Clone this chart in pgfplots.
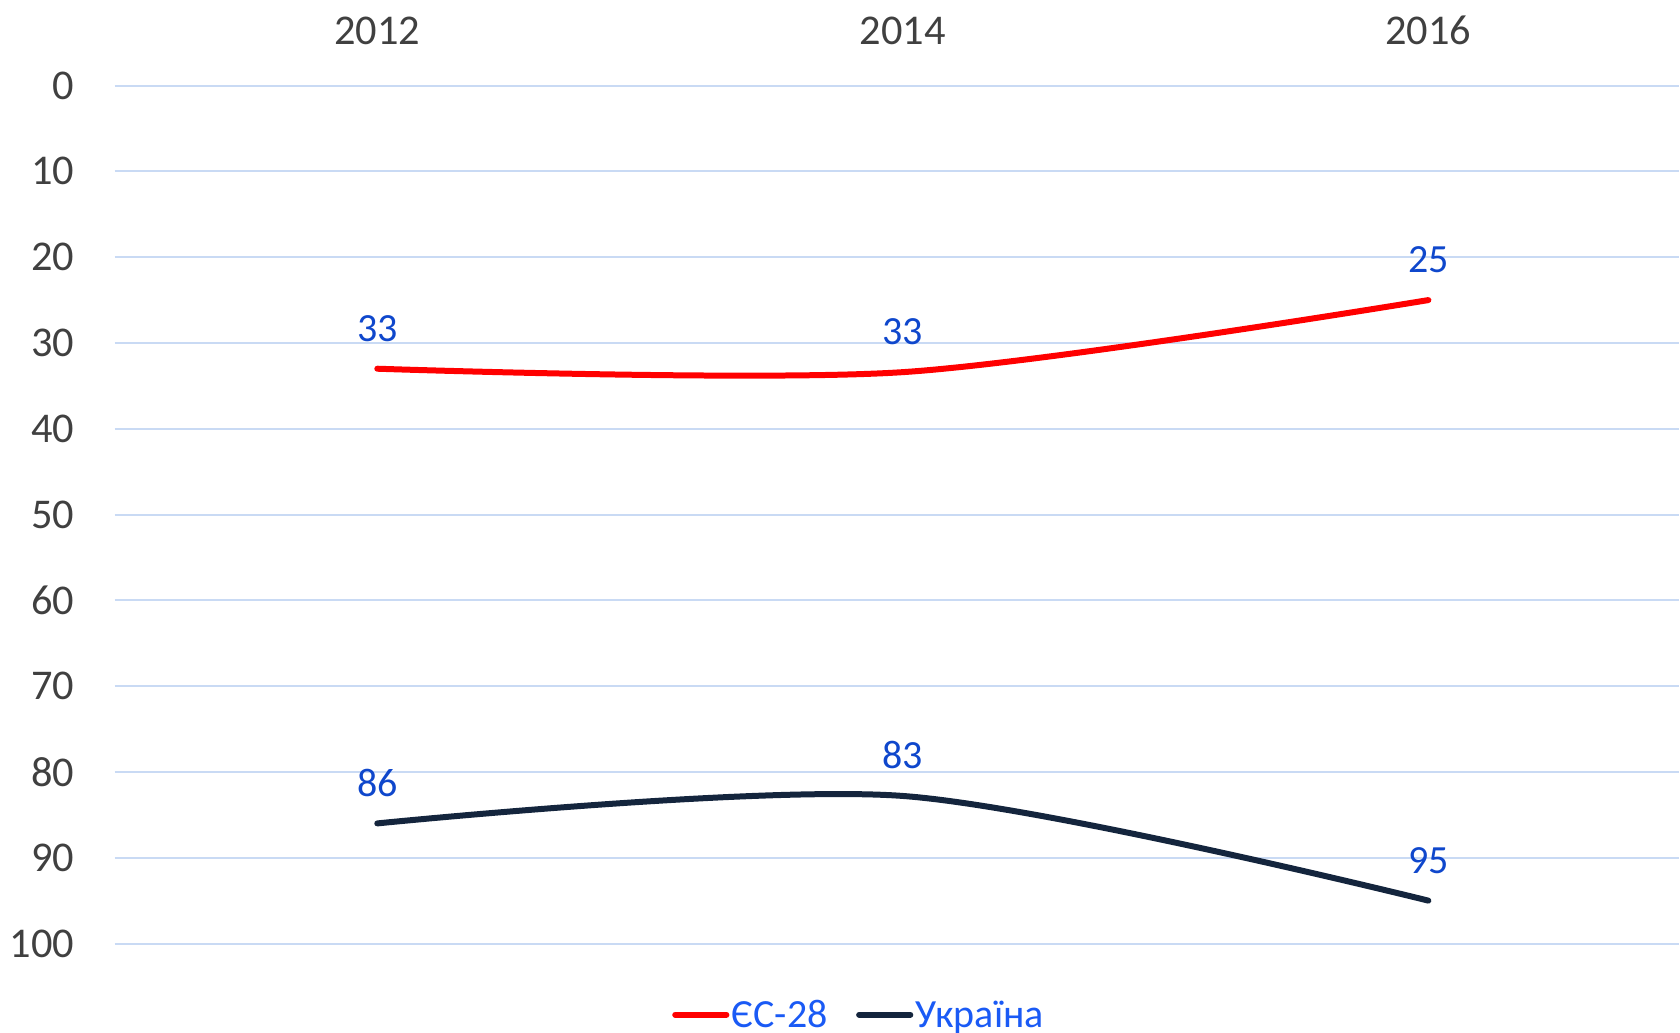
\documentclass[border=0pt]{standalone}
\usepackage{fontspec}
\setmainfont{Carlito}
\usepackage{pgfplots}
\pgfplotsset{compat=1.18}

\definecolor{gridblue}{HTML}{C9DAF4}
\definecolor{ticktxt}{HTML}{404040}
\definecolor{lblblue}{HTML}{0F47CC}
\definecolor{legblue}{HTML}{1A5AF5}
\definecolor{eured}{HTML}{FF0000}
\definecolor{uanavy}{HTML}{14253D}

\begin{document}
\begin{tikzpicture}
\begin{axis}[
    scale only axis,
    width=391.35pt, height=214.6pt,
    xmin=-0.5, xmax=2.477,
    ymin=0, ymax=100,
    y dir=reverse,
    xtick={0,1,2},
    xticklabels={2012,2014,2016},
    xticklabel pos=upper,
    ytick={0,10,...,100},
    ymajorgrids,
    grid style={gridblue, line width=0.5pt},
    axis line style={draw=none},
    major tick length=0pt,
    /pgf/number format/assume math mode=true,
    tick label style={font=\fontsize{10.6}{12}\selectfont, text=ticktxt},
    yticklabel style={anchor=east, inner sep=0pt, xshift=-9.9pt},
    xticklabel style={anchor=south, inner sep=0pt, yshift=10pt},
    clip=false,
    legend columns=-1,
    legend style={at={(0.476,-0.083)}, anchor=center, draw=none, fill=none,
        font=\fontsize{10}{12}\selectfont, text=legblue,
        nodes={inner xsep=0.6pt, inner ysep=0pt, text height=6.6pt, text depth=0pt},
        /tikz/every even column/.append style={column sep=6.5pt},
        inner sep=0pt},
    legend image code/.code={\draw[#1] (0pt,0pt) -- (12.8pt,0pt);},
    nodes near coords,
    point meta=explicit symbolic,
    every node near coord/.append style={font=\fontsize{10}{12}\selectfont,
        text=lblblue, anchor=south, inner sep=0pt, yshift=6pt},
]
% ЄС-28
\addplot[eured, line width=1.5pt, line cap=round, smooth, tension=0.5]
  table[meta=lbl] {
x y lbl
0 33 33
1 33.4 33
2 25 25
};
\addlegendentry{ЄС-28}
% Україна
\addplot[uanavy, line width=1.5pt, line cap=round, smooth, tension=0.5]
  table[meta=lbl] {
x y lbl
0 86 86
1 82.8 83
2 95 95
};
\addlegendentry{Україна}
\path (axis description cs:-0.0732,-0.1037) rectangle (axis description cs:1,1.0998);
\end{axis}
\end{tikzpicture}
\end{document}
